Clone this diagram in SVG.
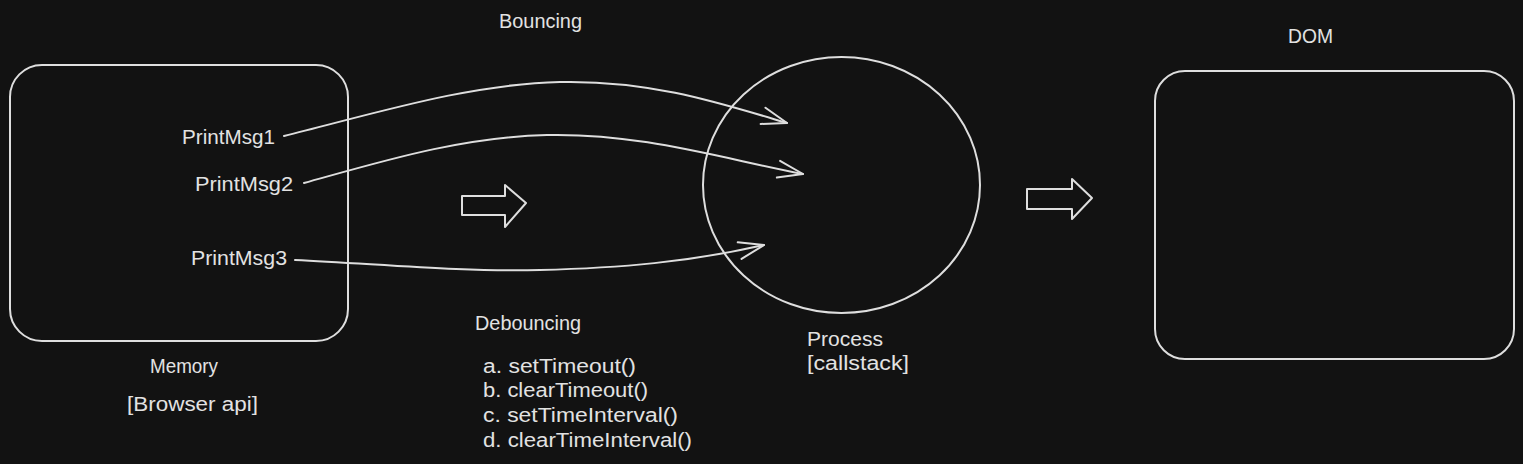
<svg xmlns="http://www.w3.org/2000/svg" width="1523" height="464" viewBox="0 0 1523 464">
<style>
.bg{fill:#121212}
.shape{fill:none;stroke:#dedede;stroke-width:2;stroke-linejoin:round;stroke-linecap:round}
.conn{fill:none;stroke:#dedede;stroke-width:2;stroke-linecap:round}
text{font-family:"Liberation Sans",Arial,sans-serif;font-size:20px;fill:#e2e2e2}
</style>
<defs>
<marker id="open" markerUnits="userSpaceOnUse" markerWidth="40" markerHeight="40" viewBox="-30 -20 40 40" refX="0" refY="0" orient="auto" overflow="visible">
<path d="M-25,-8.5 L0,0 L-25,8.5" fill="none" stroke="#dedede" stroke-width="2" stroke-linecap="round" stroke-linejoin="round"/>
</marker>
</defs>
<rect class="bg" x="0" y="0" width="1523" height="464"/>

<g id="title-bouncing"><text x="499" y="28" textLength="83" lengthAdjust="spacingAndGlyphs">Bouncing</text></g>

<g id="memory">
<rect class="shape" x="10" y="65" width="338" height="276" rx="32"/>
<text x="150" y="373" textLength="68" lengthAdjust="spacingAndGlyphs">Memory</text>
<text x="127" y="411" textLength="131" lengthAdjust="spacingAndGlyphs">[Browser api]</text>
</g>

<g id="printmsg1"><text x="182" y="144" textLength="93" lengthAdjust="spacingAndGlyphs">PrintMsg1</text></g>
<g id="printmsg2"><text x="195" y="191" textLength="98" lengthAdjust="spacingAndGlyphs">PrintMsg2</text></g>
<g id="printmsg3"><text x="191" y="265" textLength="96" lengthAdjust="spacingAndGlyphs">PrintMsg3</text></g>

<g id="process">
<ellipse class="shape" cx="841.5" cy="185" rx="138.5" ry="128"/>
<text x="807" y="346" textLength="76" lengthAdjust="spacingAndGlyphs">Process</text>
<text x="807" y="370" textLength="102" lengthAdjust="spacingAndGlyphs">[callstack]</text>
</g>

<g id="debouncing">
<text x="475" y="330" textLength="106" lengthAdjust="spacingAndGlyphs">Debouncing</text>
<text x="483" y="373" textLength="153" lengthAdjust="spacingAndGlyphs">a. setTimeout()</text>
<text x="483" y="397" textLength="165" lengthAdjust="spacingAndGlyphs">b. clearTimeout()</text>
<text x="483" y="422" textLength="195" lengthAdjust="spacingAndGlyphs">c. setTimeInterval()</text>
<text x="483" y="447" textLength="209" lengthAdjust="spacingAndGlyphs">d. clearTimeInterval()</text>
</g>

<g id="dom">
<text x="1288" y="43" textLength="45" lengthAdjust="spacingAndGlyphs">DOM</text>
<rect class="shape" x="1155" y="71" width="359" height="288" rx="30"/>
</g>

<g id="block-arrow-left">
<polygon class="shape" points="462,196 505,196 505,185 526,203 505,227 505,215 462,215"/>
</g>
<g id="block-arrow-right">
<polygon class="shape" points="1027,189 1072,189 1072,179 1092,198 1072,219 1072,209 1027,209"/>
</g>

<g id="connectors">
<path class="conn" marker-end="url(#open)" d="M284,136 C380,112 470,84 560,82 C650,80 720,103 787,123"/>
<path class="conn" marker-end="url(#open)" d="M304,183 C380,162 460,137 547,135 C640,133 720,158 803,174"/>
<path class="conn" marker-end="url(#open)" d="M295,260 C380,264 460,272 540,270 C620,268 690,262 764,245"/>
</g>
</svg>
